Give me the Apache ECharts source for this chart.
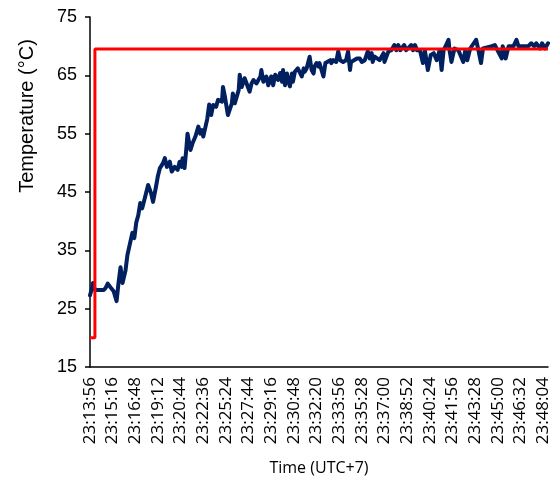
<!DOCTYPE html>
<html><head><meta charset="utf-8">
<script src="https://cdn.jsdelivr.net/npm/echarts@6/dist/echarts.min.js"></script>
<style>html,body{margin:0;padding:0;background:#fff}#c{width:554px;height:482px}</style>
</head><body><div id="c"></div>
<script>
// x = sample index (one reading every ~4 s); a time label every 23 samples
const tickLabels = ['23:13:56','23:15:16','23:16:48','23:19:12','23:20:44','23:22:36','23:25:24',
  '23:27:44','23:29:16','23:30:48','23:32:20','23:33:56','23:35:28','23:37:00','23:38:52',
  '23:40:24','23:41:56','23:43:28','23:45:00','23:46:32','23:48:04'];
const labelStep = 23;
const lastSample = 465;

// measured temperature (°C)
const blueIdx = [0,2,3,5,10,14,16,18,20,22,24,27,29,31,33,36,38,40,43,45,47,49,51,53,56,59,62,64,67,69,
  71,74,76,78,81,83,86,89,91,93,94,96,98,99,102,104,107,110,112,114,115,119,121,123,125,128,130,
  134,135,137,140,144,145,147,151,152,154,157,159,162,164,166,169,173,174,176,179,181,184,186,188,
  191,193,195,196,198,200,201,203,205,206,208,210,211,213,215,217,218,220,222,223,225,227,228,230,
  232,233,235,237,239,240,244,245,247,250,252,254,255,257,260,262,264,265,267,271,272,274,276,279,
  282,284,286,287,289,291,294,298,299,303,306,309,311,313,315,319,321,323,326,328,330,332,335,338,
  340,343,346,349,352,355,357,359,364,365,367,370,374,379,381,383,386,392,394,397,399,408,411,418,
  419,422,425,430,433,435,445,448,451,453,457,459,462,465];
const blueTemp = [27.3,28.5,29.4,28.2,28.2,28.2,28.6,29.3,29.1,28.4,28.0,26.3,29.5,32.1,29.4,31.5,34.2,33.9,38.0,37.1,39.8,41.0,43.1,42.2,44.2,46.2,44.8,43.3,45.9,47.8,
  49.1,49.9,50.8,49.3,50.2,48.5,49.3,48.8,50.2,49.3,50.8,49.1,52.8,55.0,52.2,53.3,54.5,56.2,55.0,55.6,54.5,57.5,60.0,58.2,59.9,59.6,60.8,
  60.5,63.0,61.3,58.2,60.2,61.9,60.2,62.5,65.1,63.0,64.5,63.6,62.2,63.6,64.2,63.6,64.8,65.9,63.9,64.8,63.3,64.8,63.3,65.1,
  64.2,65.4,63.9,65.9,63.3,65.3,64.2,63.1,65.3,63.9,65.6,65.3,66.2,65.9,64.8,66.2,65.6,66.2,66.5,68.2,65.9,65.3,66.5,67.1,
  66.5,67.1,67.3,64.8,67.1,67.3,67.6,67.1,67.6,67.3,69.1,67.6,67.9,67.3,67.6,69.1,65.9,67.3,67.1,67.9,67.6,67.9,67.3,67.6,
  69.1,67.9,68.8,67.3,68.2,68.5,67.6,68.8,67.3,69.1,69.3,70.2,69.3,70.2,69.3,70.2,69.3,69.3,70.2,69.3,70.2,69.3,69.3,67.1,
  69.3,65.9,68.5,68.8,67.6,69.3,65.9,69.3,71.1,69.3,67.3,69.6,69.3,67.3,69.3,67.6,69.6,71.1,69.6,67.1,69.6,70.0,70.2,67.9,
  70.0,67.9,70.0,70.0,71.1,70.0,70.0,70.5,70.0,70.5,69.6,70.5,69.6,70.5];

// set point (°C)
const setIdx = [0,5,5,465];
const setTemp = [20,20,69.5,69.5];

const yMin = 15, yMax = 75, yStep = 10;

const chart = echarts.init(document.getElementById('c'), null, {renderer:'canvas'});
chart.setOption({
  animation: false,
  backgroundColor: '#fff',
  grid: {left: 90, right: 6, top: 17, bottom: 115, containLabel: false},
  xAxis: {
    type: 'value', min: 0, max: lastSample, interval: labelStep,
    name: 'Time (UTC+7)', nameLocation: 'middle', nameGap: 93,
    nameTextStyle: {fontFamily: 'Open Sans', fontSize: 16, color: '#000'},
    axisLine: {show: true, onZero: false, lineStyle: {color: '#000', width: 1.5}},
    axisTick: {show: false},
    splitLine: {show: false},
    axisLabel: {
      rotate: 90, margin: 10, fontFamily: 'Open Sans', fontSize: 17, color: '#000',
      showMinLabel: true, showMaxLabel: true, hideOverlap: false,
      formatter: v => { const k = v / labelStep; return Number.isInteger(k) && tickLabels[k] ? tickLabels[k] : ''; }
    }
  },
  yAxis: {
    type: 'value', min: yMin, max: yMax, interval: yStep,
    name: 'Temperature (°C)', nameLocation: 'middle', nameGap: 53, nameRotate: 90,
    nameTextStyle: {fontFamily: 'Liberation Sans', fontSize: 20, color: '#000', padding: [0,0,0,152]},
    axisLine: {show: true, lineStyle: {color: '#000', width: 1.5}},
    axisTick: {show: true, length: 5, lineStyle: {color: '#000', width: 1.5}},
    splitLine: {show: false},
    axisLabel: {margin: 13, fontFamily: 'Liberation Sans', fontSize: 18, color: '#000'}
  },
  series: [
    {type: 'line', data: blueIdx.map((x, i) => [x, blueTemp[i]]), showSymbol: false, z: 2,
     lineStyle: {color: '#002060', width: 4, join: 'round', cap: 'round'}},
    {type: 'line', data: setIdx.map((x, i) => [x, setTemp[i]]), showSymbol: false, z: 3,
     lineStyle: {color: '#ff0000', width: 3}}
  ]
});
</script></body></html>
